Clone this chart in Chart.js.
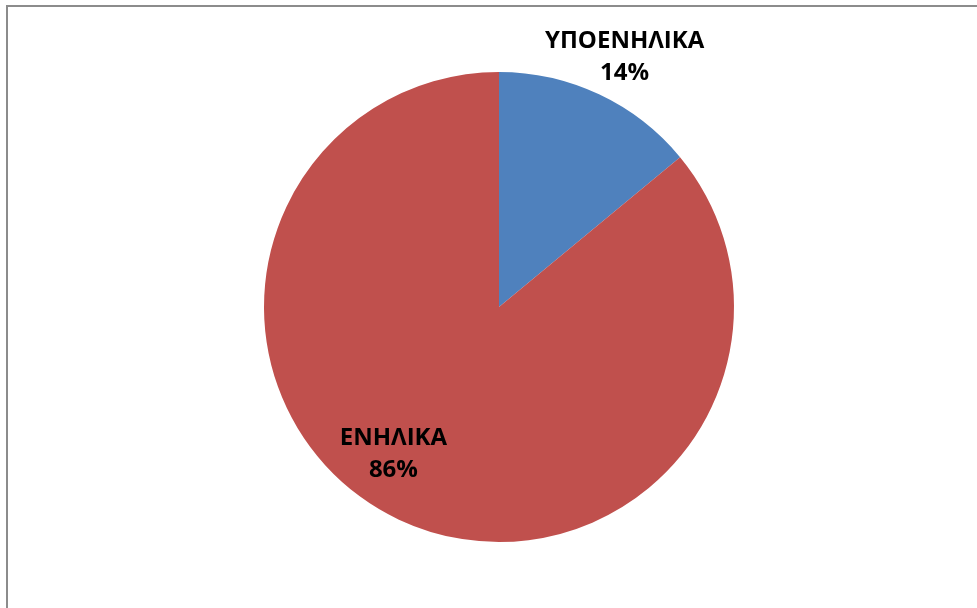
<!DOCTYPE html>
<html>
<head>
<meta charset="utf-8">
<script src="https://cdn.jsdelivr.net/npm/chart.js@4/dist/chart.umd.min.js"></script>
<style>
  html, body { margin: 0; padding: 0; background: #fff; overflow: hidden; }
  #frame {
    position: absolute; left: 6px; top: 5px;
    width: 969px; height: 601px;
    border: 2px solid #8c8c8c; border-right: none; border-bottom: none;
  }
</style>
</head>
<body>
<div id="frame"><canvas id="c" width="969" height="601"></canvas></div>
<script>
const categories = ['ΥΠΟΕΝΗΛΙΚΑ', 'ΕΝΗΛΙΚΑ'];
const shares = [14, 86];
const sliceColors = ['#4f81bd', '#c0504d'];

// label placement per slice: [radius factor, angle shift in degrees]
const labelPlace = [[1.19, 1.5], [0.77, 10.5]];

const sliceLabels = {
  id: 'sliceLabels',
  afterDatasetsDraw(chart) {
    const ctx = chart.ctx;
    const meta = chart.getDatasetMeta(0);
    const total = shares.reduce((a, b) => a + b, 0);
    ctx.save();
    ctx.font = 'bold 24px "Open Sans"';
    ctx.fillStyle = '#000';
    ctx.textAlign = 'center';
    ctx.textBaseline = 'middle';
    meta.data.forEach((arc, i) => {
      const p = arc.getProps(['x', 'y', 'startAngle', 'endAngle', 'outerRadius'], true);
      const a = (p.startAngle + p.endAngle) / 2 + labelPlace[i][1] * Math.PI / 180;
      const r = p.outerRadius * labelPlace[i][0];
      const x = p.x + r * Math.cos(a);
      const y = p.y + r * Math.sin(a);
      const pct = Math.round(shares[i] / total * 100) + '%';
      ctx.fillText(categories[i], x, y - 16);
      ctx.fillText(pct, x, y + 16);
    });
    ctx.restore();
  }
};

new Chart(document.getElementById('c'), {
  type: 'pie',
  data: {
    labels: categories,
    datasets: [{
      data: shares,
      backgroundColor: sliceColors,
      borderWidth: 0
    }]
  },
  options: {
    responsive: false,
    animation: false,
    layout: { padding: { top: 65, bottom: 66, left: 256, right: 243 } },
    plugins: { legend: { display: false }, tooltip: { enabled: false } }
  },
  plugins: [sliceLabels]
});
</script>
</body>
</html>
